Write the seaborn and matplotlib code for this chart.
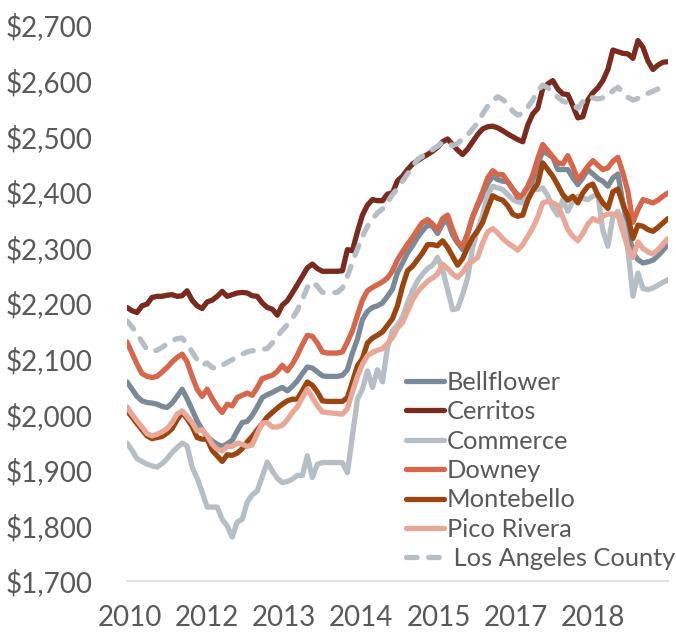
import numpy as np
import pandas as pd
import seaborn as sns
import matplotlib
matplotlib.use("Agg")
import matplotlib.pyplot as plt

# monthly median rents, 2010-2018
bellflower = [2058, 2045, 2032, 2024, 2021, 2020, 2018, 2014, 2012, 2020, 2032, 2045, 2028, 2008, 1988, 1972,
              1960, 1952, 1946, 1942, 1947, 1953, 1970, 1985, 1987, 1998, 2013, 2030, 2035, 2039, 2044, 2048,
              2042, 2050, 2060, 2073, 2085, 2083, 2076, 2069, 2068, 2068, 2068, 2070, 2080, 2110, 2135, 2170,
              2185, 2192, 2195, 2200, 2212, 2225, 2255, 2272, 2290, 2303, 2318, 2330, 2340, 2338, 2325, 2343,
              2348, 2322, 2308, 2296, 2325, 2355, 2375, 2393, 2415, 2428, 2422, 2419, 2418, 2405, 2395, 2386,
              2400, 2420, 2450, 2473, 2468, 2462, 2440, 2440, 2440, 2425, 2413, 2425, 2440, 2432, 2424, 2419,
              2410, 2425, 2432, 2380, 2335, 2290, 2278, 2272, 2274, 2277, 2285, 2295, 2305]
cerritos = [2192, 2186, 2183, 2195, 2198, 2210, 2212, 2212, 2214, 2215, 2212, 2213, 2222, 2205, 2195, 2190,
            2202, 2205, 2212, 2221, 2212, 2215, 2218, 2219, 2218, 2213, 2212, 2200, 2192, 2189, 2178, 2196,
            2204, 2218, 2233, 2248, 2263, 2270, 2262, 2257, 2257, 2257, 2257, 2258, 2296, 2294, 2328, 2358,
            2376, 2386, 2384, 2384, 2396, 2398, 2420, 2428, 2440, 2450, 2456, 2462, 2467, 2473, 2480, 2490,
            2495, 2485, 2475, 2467, 2477, 2490, 2503, 2513, 2517, 2518, 2515, 2510, 2504, 2499, 2494, 2490,
            2520, 2540, 2550, 2586, 2594, 2600, 2585, 2576, 2575, 2555, 2533, 2535, 2565, 2578, 2587, 2600,
            2620, 2655, 2652, 2649, 2648, 2640, 2672, 2660, 2635, 2620, 2628, 2633, 2634]
commerce = [1948, 1935, 1920, 1915, 1910, 1907, 1905, 1911, 1920, 1931, 1940, 1948, 1943, 1905, 1885, 1860,
            1833, 1833, 1833, 1811, 1799, 1779, 1806, 1811, 1842, 1855, 1862, 1888, 1914, 1898, 1885, 1877,
            1879, 1883, 1890, 1890, 1925, 1886, 1910, 1913, 1913, 1913, 1913, 1913, 1895, 1961, 2027, 2045,
            2078, 2048, 2080, 2058, 2120, 2150, 2160, 2175, 2200, 2222, 2240, 2252, 2262, 2268, 2282, 2260,
            2224, 2188, 2190, 2215, 2245, 2300, 2332, 2358, 2395, 2410, 2407, 2404, 2395, 2386, 2382, 2380,
            2395, 2404, 2404, 2407, 2393, 2371, 2358, 2386, 2365, 2383, 2392, 2388, 2386, 2392, 2395, 2330,
            2302, 2355, 2365, 2345, 2295, 2212, 2254, 2226, 2224, 2227, 2232, 2237, 2242]
downey = [2130, 2110, 2090, 2073, 2068, 2066, 2068, 2076, 2084, 2094, 2102, 2108, 2094, 2068, 2045, 2032,
          2045, 2028, 2014, 2003, 2018, 2015, 2030, 2034, 2038, 2034, 2048, 2064, 2067, 2070, 2077, 2088,
          2078, 2090, 2106, 2125, 2142, 2140, 2128, 2112, 2110, 2110, 2110, 2112, 2130, 2150, 2178, 2205,
          2222, 2228, 2233, 2238, 2245, 2258, 2278, 2292, 2306, 2318, 2332, 2345, 2350, 2342, 2332, 2352,
          2358, 2332, 2310, 2302, 2325, 2355, 2378, 2400, 2425, 2438, 2431, 2431, 2418, 2405, 2390, 2395,
          2410, 2430, 2460, 2485, 2474, 2463, 2452, 2450, 2465, 2445, 2422, 2433, 2446, 2456, 2448, 2440,
          2443, 2455, 2462, 2434, 2400, 2345, 2368, 2386, 2383, 2380, 2385, 2392, 2398]
montebello = [2006, 1995, 1983, 1972, 1961, 1956, 1958, 1960, 1966, 1974, 1990, 2003, 1992, 1978, 1958, 1955,
              1955, 1935, 1925, 1915, 1927, 1926, 1930, 1938, 1950, 1960, 1972, 1983, 1995, 2003, 2011, 2018,
              2024, 2027, 2027, 2042, 2058, 2052, 2040, 2024, 2023, 2023, 2023, 2023, 2030, 2058, 2087, 2100,
              2128, 2137, 2142, 2148, 2160, 2172, 2195, 2230, 2258, 2266, 2278, 2290, 2305, 2305, 2303, 2312,
              2300, 2284, 2268, 2280, 2300, 2318, 2330, 2345, 2370, 2393, 2388, 2385, 2375, 2360, 2356, 2358,
              2385, 2402, 2415, 2452, 2440, 2428, 2412, 2395, 2385, 2392, 2380, 2398, 2410, 2414, 2394, 2380,
              2370, 2400, 2405, 2378, 2355, 2316, 2340, 2338, 2332, 2329, 2336, 2344, 2352]
pico_rivera = [2013, 2000, 1988, 1977, 1965, 1961, 1964, 1968, 1974, 1985, 2000, 2006, 1996, 1985, 1970, 1972,
               1962, 1946, 1937, 1934, 1942, 1942, 1948, 1946, 1942, 1945, 1965, 1984, 1985, 1977, 1977, 1980,
               1990, 2003, 2013, 2030, 2045, 2030, 2015, 2004, 2003, 2002, 2001, 2000, 2010, 2040, 2068, 2090,
               2105, 2111, 2115, 2118, 2127, 2138, 2155, 2165, 2185, 2205, 2220, 2230, 2239, 2245, 2252, 2270,
               2262, 2252, 2246, 2255, 2269, 2275, 2282, 2308, 2328, 2334, 2326, 2316, 2308, 2302, 2295, 2305,
               2320, 2335, 2355, 2380, 2383, 2380, 2375, 2355, 2332, 2320, 2312, 2325, 2342, 2352, 2347, 2356,
               2360, 2360, 2358, 2328, 2300, 2282, 2310, 2298, 2292, 2288, 2296, 2306, 2316]
la_county = [2168, 2157, 2145, 2130, 2116, 2113, 2115, 2120, 2127, 2132, 2136, 2137, 2126, 2112, 2098, 2088,
             2092, 2084, 2082, 2088, 2093, 2098, 2103, 2108, 2112, 2114, 2116, 2117, 2118, 2128, 2140, 2151,
             2161, 2172, 2187, 2206, 2228, 2238, 2230, 2219, 2219, 2219, 2219, 2227, 2248, 2274, 2297, 2320,
             2338, 2351, 2362, 2369, 2382, 2395, 2406, 2419, 2432, 2445, 2458, 2464, 2470, 2476, 2482, 2489,
             2488, 2483, 2487, 2495, 2502, 2513, 2524, 2540, 2554, 2563, 2571, 2566, 2558, 2545, 2538, 2541,
             2552, 2565, 2582, 2592, 2587, 2580, 2570, 2563, 2560, 2557, 2550, 2562, 2571, 2569, 2567, 2569,
             2571, 2582, 2588, 2579, 2570, 2565, 2568, 2573, 2577, 2581, 2585, 2586, 2587]

names = ["Bellflower", "Cerritos", "Commerce", "Downey", "Montebello", "Pico Rivera", "Los Angeles County"]
colors = ["#7b8a97", "#7a2b1d", "#b6bec6", "#d8664b", "#9b450f", "#e9a897", "#b6bec6"]
year_labels = ["2010", "2012", "2013", "2014", "2015", "2017", "2018"]

series = [bellflower, cerritos, commerce, downey, montebello, pico_rivera, la_county]
month = np.arange(len(bellflower))

sns.set_style("white")
plt.rcParams["font.family"] = ["Lato", "DejaVu Sans"]

fig = plt.figure(figsize=(6.76, 6.33), dpi=100)
ax = fig.add_axes([127 / 676, 1 - 581 / 633, 541 / 676, 556 / 633])

for name, vals, c in zip(names, series, colors):
    if name == "Los Angeles County":
        sns.lineplot(x=month, y=vals, ax=ax, color=c, lw=3.8, label=" " + name,
                     dashes=False, linestyle=(0, (2.0, 2.2)), dash_capstyle="round")
    else:
        sns.lineplot(x=month, y=vals, ax=ax, color=c, lw=3.8, label=name,
                     solid_joinstyle="round", solid_capstyle="round")

ax.set_xlim(0, len(bellflower) - 1)
ax.set_ylim(1700, 2700)
ax.set_yticks(np.arange(1700, 2701, 100))
ax.set_yticklabels([f"${v:,}" for v in range(1700, 2701, 100)])
ax.set_xticks(0.6 + 15.4 * np.arange(len(year_labels)))
ax.set_xticklabels(year_labels)
ax.tick_params(axis="y", length=0, pad=25, labelsize=20, labelcolor="#595959")
ax.tick_params(axis="x", length=0, pad=17, labelsize=20, labelcolor="#595959")
ax.set_xlabel("")
ax.set_ylabel("")
for s in ["top", "right", "left"]:
    ax.spines[s].set_visible(False)
ax.spines["bottom"].set_color("#d9d9d9")
ax.spines["bottom"].set_linewidth(1.2)

leg = ax.legend(loc="upper left", bbox_to_anchor=(406 / 676, 1 - 371 / 633),
                bbox_transform=fig.transFigure, frameon=False, fontsize=18.3,
                handlelength=1.5, handletextpad=0.1, labelspacing=0.25,
                borderaxespad=0, borderpad=0)
for t in leg.get_texts():
    t.set_color("#595959")

fig.savefig("out.png", dpi=100)
